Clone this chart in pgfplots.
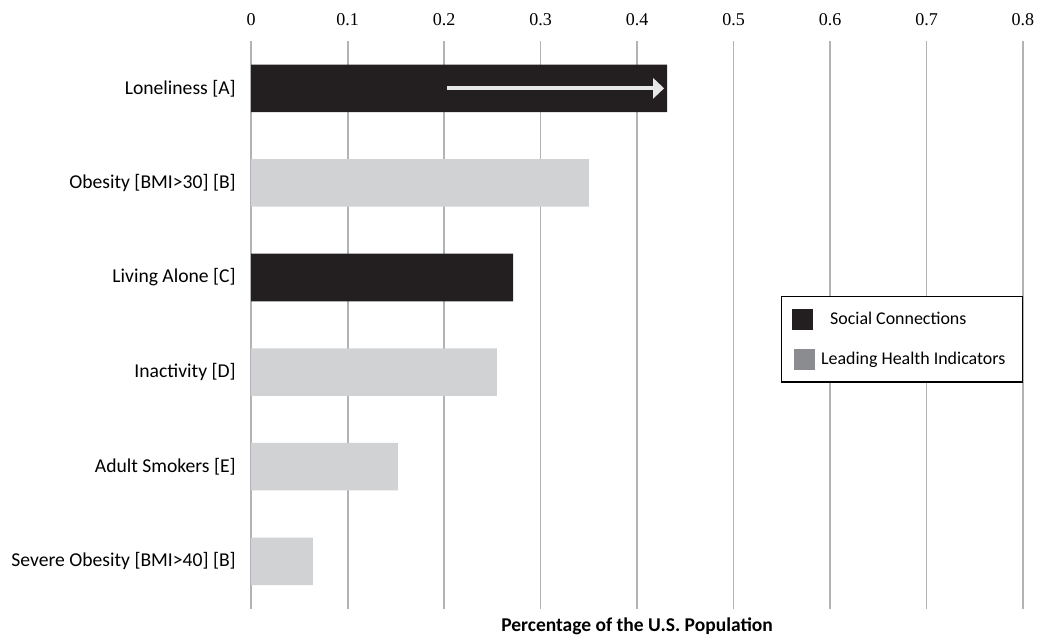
\documentclass[border=0pt]{standalone}
\usepackage{fontspec}
\setmainfont{Carlito}
\newfontfamily\tickfont{Liberation Serif}
\usepackage{pgfplots}
\pgfplotsset{compat=1.18}
\usetikzlibrary{arrows.meta}
\definecolor{socialblack}{HTML}{231F20}
\definecolor{healthgray}{HTML}{D1D2D4}
\definecolor{legendgray}{HTML}{8B8C8F}
\definecolor{gridgray}{HTML}{B1B3B6}
\definecolor{arrowgray}{HTML}{E6E7E8}
\begin{document}
\begin{tikzpicture}
\begin{axis}[
  name=ax,
  scale only axis,
  width=771bp, height=567bp,
  xmin=0, xmax=0.8,
  ymin=-0.5, ymax=5.5,
  y dir=reverse,
  xtick={0,0.1,...,0.8},
  xticklabel pos=upper,
  xticklabel style={font=\fontsize{18bp}{20bp}\tickfont, yshift=12bp},
  /pgf/number format/assume math mode=true,
  /pgf/number format/fixed,
  xmajorgrids,
  major grid style={draw=gridgray, line width=1.6bp},
  ytick={0,1,2,3,4,5},
  yticklabels={Loneliness [A], Obesity [BMI>30] [B], Living Alone [C], Inactivity [D], Adult Smokers [E], Severe Obesity [BMI>40] [B]},
  yticklabel style={font=\fontsize{19.6bp}{22bp}\selectfont, xshift=-12bp},
  axis line style={draw=none},
  tick style={draw=none},
  xlabel={Percentage of the U.S. Population},
  xlabel style={at={(axis description cs:0.5,0)}, anchor=base, yshift=-23bp, font=\fontsize{19.5bp}{22bp}\selectfont\bfseries},
  legend style={at={(1,0.5503)}, anchor=north east, draw=black, line width=1.2bp,
    inner xsep=11bp, inner ysep=12bp, row sep=19bp,
    font=\fontsize{17.9bp}{20bp}\selectfont, nodes={inner xsep=6bp}},
  legend cell align=left,
]
\addplot[xbar, bar width=47.5bp, bar shift=0pt, fill=socialblack, draw=none,
  legend image code/.code={\fill[fill=socialblack] (0bp,-10.5bp) rectangle (21bp,10.5bp);}]
  coordinates {(0.431,0) (0.2715,2)};
\addlegendentry{\hspace{9bp}Social Connections}
\addplot[xbar, bar width=47.5bp, bar shift=0pt, fill=healthgray, draw=none,
  legend image code/.code={\fill[fill=legendgray] (2bp,-10.5bp) rectangle (23bp,10.5bp);}]
  coordinates {(0.350,1) (0.2546,3) (0.152,4) (0.064,5)};
\addlegendentry{Leading Health Indicators}
\addplot[draw=arrowgray, line width=4bp, -{Triangle[width=20bp,length=11bp]}, forget plot]
  coordinates {(0.203,0) (0.428,0)};
\end{axis}
\pgfresetboundingbox
\path[use as bounding box] ([shift={(-251bp,-31bp)}]ax.south west) rectangle ([shift={(15bp,41bp)}]ax.north east);
\end{tikzpicture}
\end{document}
